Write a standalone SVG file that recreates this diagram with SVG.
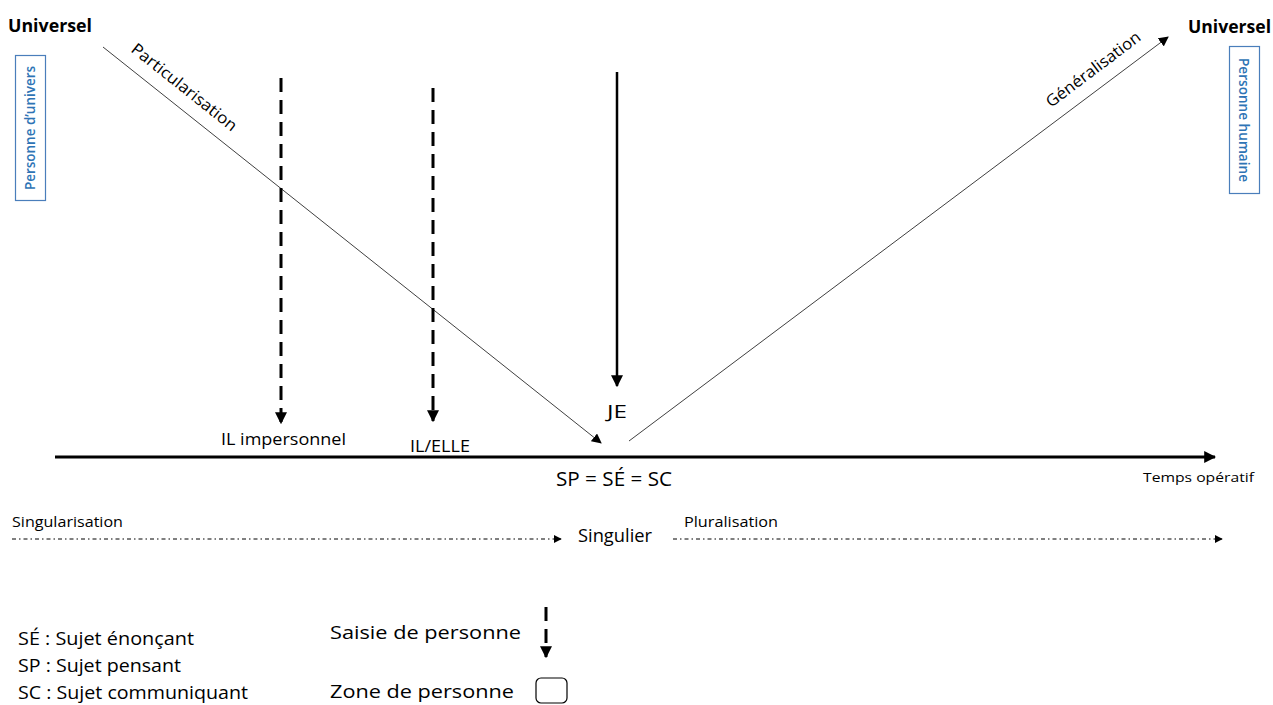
<svg xmlns="http://www.w3.org/2000/svg" width="1273" height="705" viewBox="0 0 1273 705">
<defs>
<style>
text{font-family:"Open Sans",Lato,"Liberation Sans",sans-serif;fill:#000}
.b{font-weight:bold;font-size:17px}
.blue{fill:#2E74B5;font-size:14px;font-weight:600}
.box{fill:none;stroke:#4A7EBB;stroke-width:1.2}
.thin{stroke:#404040;stroke-width:1;fill:none}
.dash{stroke:#000;stroke-width:3;stroke-dasharray:14 8;fill:none}
.dd{stroke:#000;stroke-width:1;stroke-dasharray:4 3 1.5 3;fill:none}
</style>
<marker id="ah" viewBox="0 0 10 10" refX="9" refY="5" markerWidth="10" markerHeight="10" markerUnits="userSpaceOnUse" orient="auto"><path d="M0,0L10,5L0,10z" fill="#000"/></marker>
<marker id="ahb" viewBox="0 0 10 10" refX="9" refY="5" markerWidth="12" markerHeight="12" markerUnits="userSpaceOnUse" orient="auto"><path d="M0,0L10,5L0,10z" fill="#000"/></marker>
<marker id="ahs" viewBox="0 0 10 10" refX="9" refY="5" markerWidth="8" markerHeight="8" markerUnits="userSpaceOnUse" orient="auto"><path d="M0,0L10,5L0,10z" fill="#000"/></marker>
</defs>
<rect width="1273" height="705" fill="#fff"/>

<g id="connectors">
<line class="thin" x1="103" y1="47" x2="601" y2="443" marker-end="url(#ah)"/>
<line class="thin" x1="629" y1="441" x2="1168" y2="37" marker-end="url(#ah)"/>
<line class="dash" x1="281" y1="78" x2="281" y2="423" marker-end="url(#ahb)"/>
<line class="dash" x1="433" y1="88" x2="433" y2="421" marker-end="url(#ahb)"/>
<line x1="617" y1="72" x2="617" y2="386" stroke="#000" stroke-width="2.5" marker-end="url(#ahb)"/>
<line x1="55" y1="457" x2="1215" y2="457" stroke="#000" stroke-width="3.2" marker-end="url(#ahb)"/>
<line class="dd" x1="12" y1="539" x2="561" y2="539" marker-end="url(#ahs)"/>
<line class="dd" x1="673" y1="539" x2="1222" y2="539" marker-end="url(#ahs)"/>
<line class="dash" x1="546" y1="607" x2="546" y2="657" stroke-dasharray="13 8" marker-end="url(#ahb)"/>
</g>

<g id="universel-left"><text class="b" x="8" y="32" textLength="84" lengthAdjust="spacingAndGlyphs">Universel</text></g>
<g id="universel-right"><text class="b" x="1188" y="33" textLength="83" lengthAdjust="spacingAndGlyphs">Universel</text></g>

<g id="personne-univers">
<rect class="box" x="15.5" y="55.5" width="30" height="145"/>
<text class="blue" transform="translate(35,128) rotate(-90)" text-anchor="middle" textLength="124" lengthAdjust="spacingAndGlyphs">Personne d’univers</text>
</g>
<g id="personne-humaine">
<rect class="box" x="1229.5" y="46.5" width="30" height="147"/>
<text class="blue" transform="translate(1239,120) rotate(90)" text-anchor="middle" textLength="124" lengthAdjust="spacingAndGlyphs">Personne humaine</text>
</g>

<g id="lbl-part"><text font-size="16" transform="translate(130,51) rotate(38.5)" textLength="130" lengthAdjust="spacingAndGlyphs">Particularisation</text></g>
<g id="lbl-gen"><text font-size="16" transform="translate(1051,108) rotate(-37)" textLength="114" lengthAdjust="spacingAndGlyphs">Généralisation</text></g>

<g id="il-impersonnel"><text font-size="17" x="221" y="445" textLength="125" lengthAdjust="spacingAndGlyphs">IL impersonnel</text></g>
<g id="il-elle"><text font-size="17" x="410" y="452" textLength="60" lengthAdjust="spacingAndGlyphs">IL/ELLE</text></g>
<g id="je"><text font-size="18" x="617" y="418" text-anchor="middle" textLength="20" lengthAdjust="spacingAndGlyphs">JE</text></g>
<g id="sp-se-sc"><text font-size="20" x="556" y="486" textLength="116" lengthAdjust="spacingAndGlyphs">SP = SÉ = SC</text></g>
<g id="temps"><text font-size="12" x="1143" y="482" textLength="111" lengthAdjust="spacingAndGlyphs">Temps opératif</text></g>

<g id="singularisation"><text font-size="14" x="12" y="527" textLength="111" lengthAdjust="spacingAndGlyphs">Singularisation</text></g>
<g id="singulier"><text font-size="18" x="578" y="542" textLength="74" lengthAdjust="spacingAndGlyphs">Singulier</text></g>
<g id="pluralisation"><text font-size="14" x="684" y="527" textLength="94" lengthAdjust="spacingAndGlyphs">Pluralisation</text></g>

<g id="legend">
<text font-size="18" x="18" y="645" textLength="176" lengthAdjust="spacingAndGlyphs">SÉ : Sujet énonçant</text>
<text font-size="18" x="18" y="672" textLength="163" lengthAdjust="spacingAndGlyphs">SP : Sujet pensant</text>
<text font-size="18" x="18" y="699" textLength="230" lengthAdjust="spacingAndGlyphs">SC : Sujet communiquant</text>
<text font-size="19" x="330" y="639" textLength="191" lengthAdjust="spacingAndGlyphs">Saisie de personne</text>
<text font-size="19" x="330" y="698" textLength="184" lengthAdjust="spacingAndGlyphs">Zone de personne</text>
<rect x="536" y="678" width="31" height="25" rx="5" fill="none" stroke="#000" stroke-width="1.2"/>
</g>
</svg>
